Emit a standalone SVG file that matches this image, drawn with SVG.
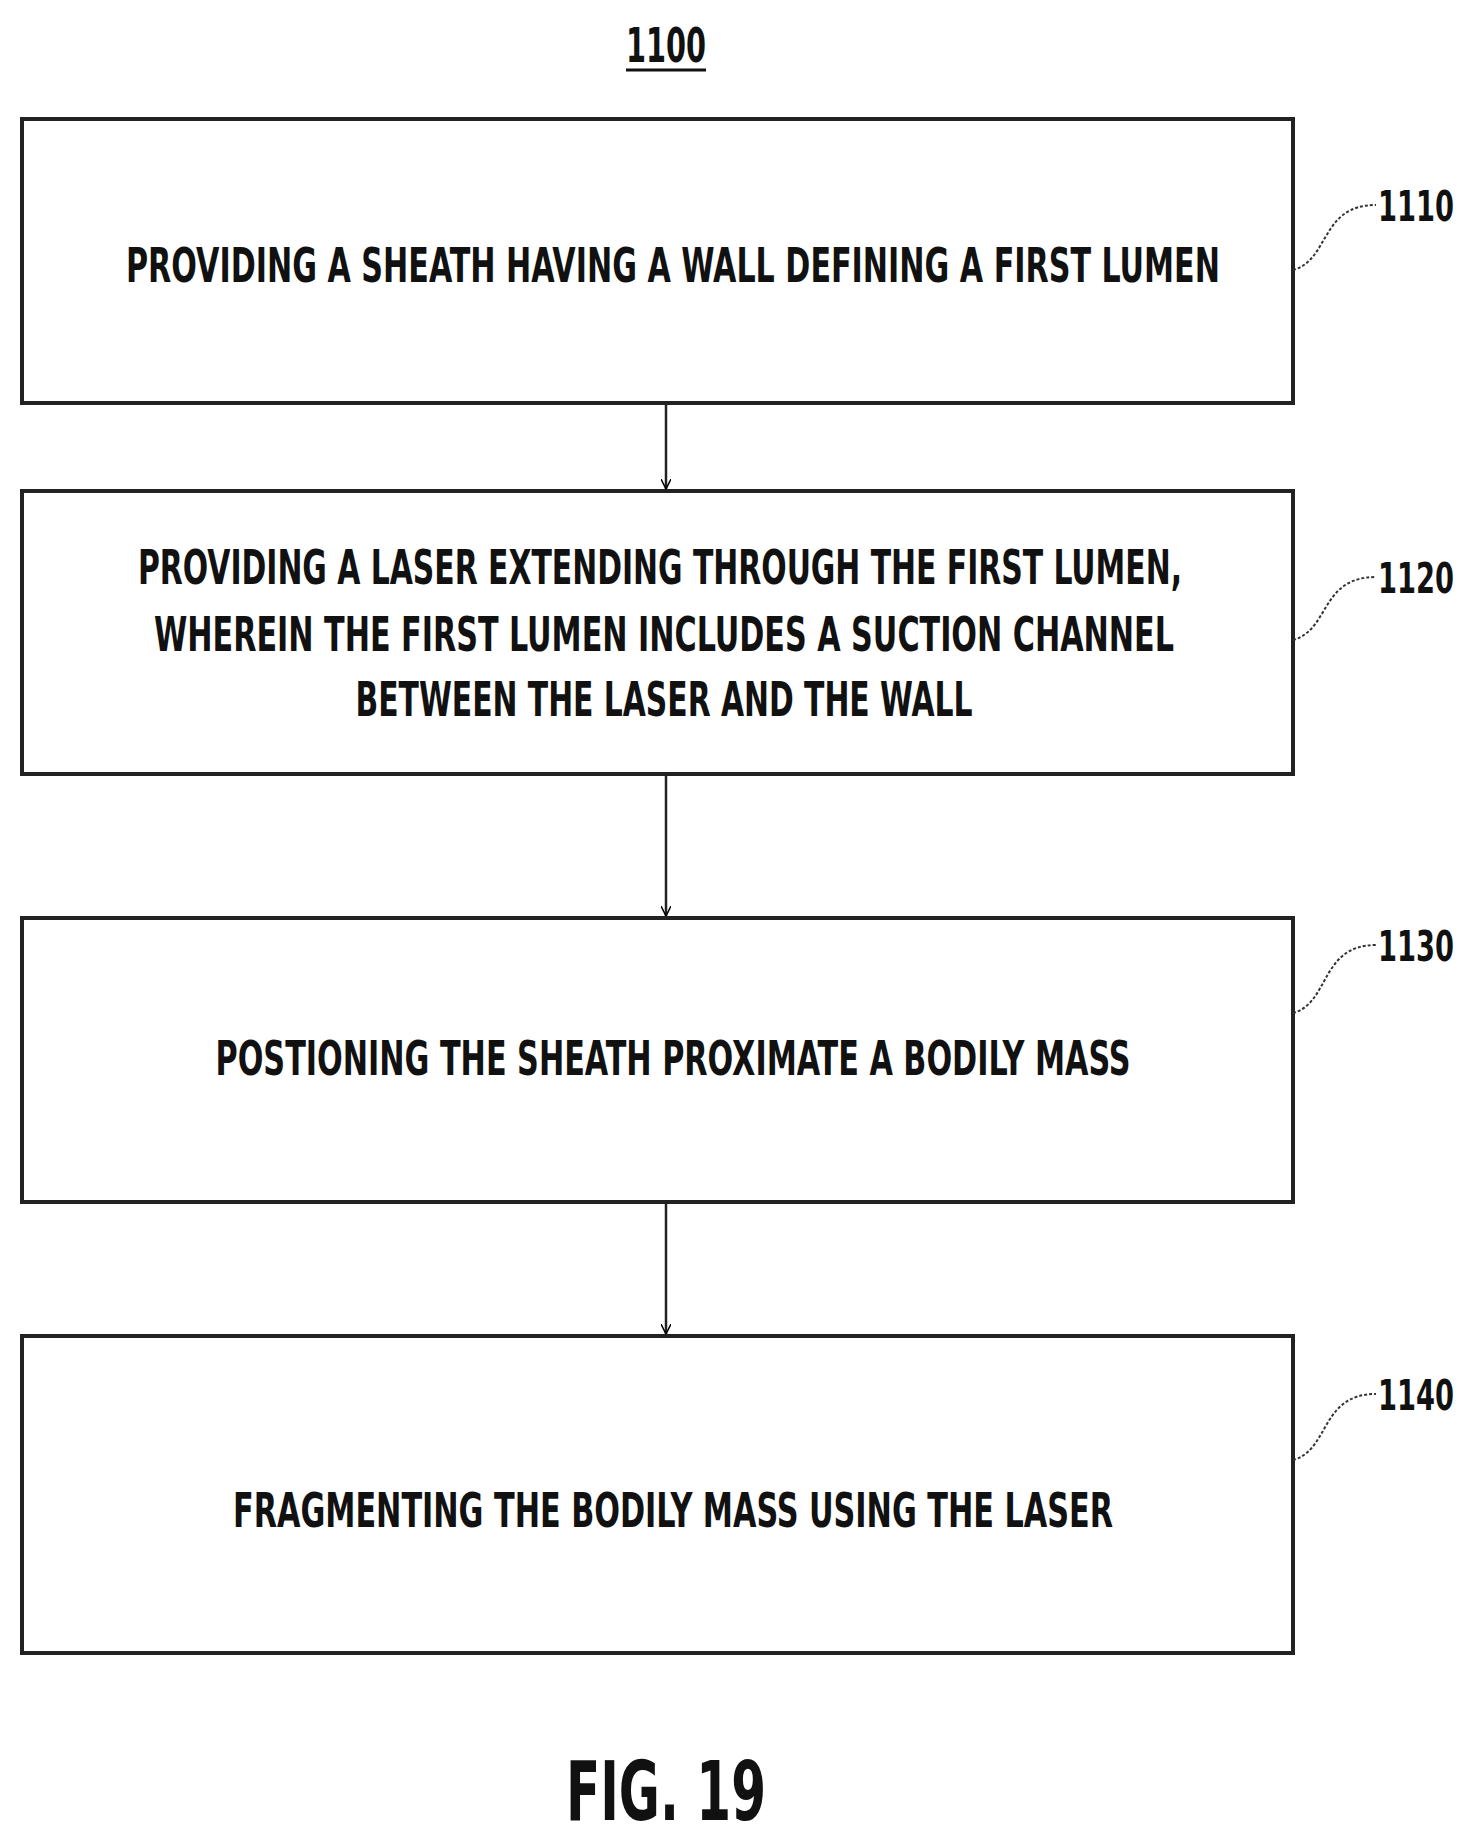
<svg xmlns="http://www.w3.org/2000/svg" width="1473" height="1837" viewBox="0 0 1473 1837">
<defs>
<marker id="ah" viewBox="0 0 10 10" refX="10" refY="5" markerWidth="10" markerHeight="10" markerUnits="userSpaceOnUse" orient="auto"><path d="M0,0 L10,5 L0,10" fill="none" stroke="#000" stroke-width="1.5"/></marker>
</defs>
<style>
.box{fill:#fff;stroke:#222;stroke-width:4}
.t{font-family:"DejaVu Sans Condensed","DejaVu Sans",sans-serif;font-weight:bold;font-size:48px;text-anchor:middle;fill:#111}
.lbl{font-family:"DejaVu Sans Condensed","DejaVu Sans",sans-serif;font-weight:bold;font-size:42px;fill:#111}
.ld{fill:none;stroke:#333;stroke-width:2;stroke-dasharray:3 2}
.c{stroke:#222;stroke-width:2.5;fill:none;marker-end:url(#ah)}
</style>
<rect width="1473" height="1837" fill="#fff"/>
<g id="title"><text class="t" x="666" y="62" textLength="80" lengthAdjust="spacingAndGlyphs">1100</text><line x1="626" y1="70" x2="706" y2="70" stroke="#111" stroke-width="3"/></g>
<g id="n1110"><rect class="box" x="22" y="119" width="1271" height="284"/><text class="t" x="673" y="282" textLength="1094" lengthAdjust="spacingAndGlyphs">PROVIDING A SHEATH HAVING A WALL DEFINING A FIRST LUMEN</text>
<path class="ld" d="M1293,270 C1330,260 1320,205 1376,205"/><text class="lbl" x="1378" y="221" textLength="76" lengthAdjust="spacingAndGlyphs">1110</text></g>
<g id="n1120"><rect class="box" x="22" y="491" width="1271" height="283"/>
<text class="t" x="660" y="584" textLength="1044" lengthAdjust="spacingAndGlyphs">PROVIDING A LASER EXTENDING THROUGH THE FIRST LUMEN,</text>
<text class="t" x="664" y="651" textLength="1020" lengthAdjust="spacingAndGlyphs">WHEREIN THE FIRST LUMEN INCLUDES A SUCTION CHANNEL</text>
<text class="t" x="664" y="716" textLength="617" lengthAdjust="spacingAndGlyphs">BETWEEN THE LASER AND THE WALL</text>
<path class="ld" d="M1293,640 C1330,630 1320,577 1376,577"/><text class="lbl" x="1378" y="593" textLength="76" lengthAdjust="spacingAndGlyphs">1120</text></g>
<g id="n1130"><rect class="box" x="22" y="918" width="1271" height="284"/><text class="t" x="673" y="1075" textLength="915" lengthAdjust="spacingAndGlyphs">POSTIONING THE SHEATH PROXIMATE A BODILY MASS</text>
<path class="ld" d="M1293,1013 C1330,1003 1320,945 1376,945"/><text class="lbl" x="1378" y="961" textLength="76" lengthAdjust="spacingAndGlyphs">1130</text></g>
<g id="n1140"><rect class="box" x="22" y="1336" width="1271" height="317"/><text class="t" x="673" y="1527" textLength="880" lengthAdjust="spacingAndGlyphs">FRAGMENTING THE BODILY MASS USING THE LASER</text>
<path class="ld" d="M1293,1460 C1330,1450 1320,1394 1376,1394"/><text class="lbl" x="1378" y="1410" textLength="76" lengthAdjust="spacingAndGlyphs">1140</text></g>
<g id="connectors">
<line class="c" x1="666" y1="403" x2="666" y2="489"/>
<line class="c" x1="666" y1="774" x2="666" y2="916"/>
<line class="c" x1="666" y1="1202" x2="666" y2="1334"/>
</g>
<g id="fig"><text class="t" x="666" y="1820" style="font-size:82px" textLength="200" lengthAdjust="spacingAndGlyphs">FIG. 19</text></g>
</svg>
